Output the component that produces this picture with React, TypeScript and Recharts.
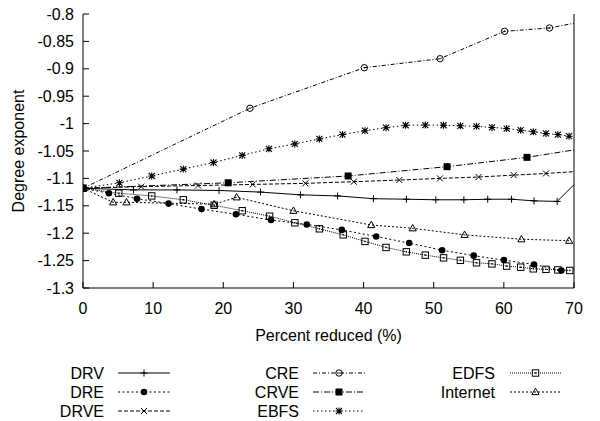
import React from 'react';
import { LineChart, Line, XAxis, YAxis } from 'recharts';

const X_TICKS = [0, 10, 20, 30, 40, 50, 60, 70];
const Y_TICKS = [-1.3, -1.25, -1.2, -1.15, -1.1, -1.05, -1, -0.95, -0.9, -0.85, -0.8];

const DRV: number[][] = [
  [0, -1.118], [7.2, -1.121], [13.4, -1.121], [19.4, -1.122], [25.3, -1.125], [31.0, -1.13],
  [36.3, -1.132], [41.4, -1.137], [46.1, -1.138], [50.3, -1.139], [54.3, -1.139], [57.7, -1.138],
  [61.1, -1.138], [64.3, -1.141], [67.6, -1.142], [72, -1.086],
];
const DRE: number[][] = [
  [0, -1.118], [3.7, -1.127], [7.7, -1.137], [12.2, -1.146], [16.9, -1.156], [21.8, -1.1655],
  [26.8, -1.176], [31.9, -1.184], [36.9, -1.194], [41.8, -1.206], [46.5, -1.218], [51.2, -1.231],
  [55.7, -1.241], [60.0, -1.249], [64.3, -1.257], [68.2, -1.268],
];
const DRVE: number[][] = [
  [0, -1.118], [8.3, -1.115], [16.4, -1.113], [24.2, -1.111], [31.7, -1.109], [38.6, -1.106],
  [45.1, -1.103], [50.9, -1.1], [56.4, -1.0975], [61.4, -1.094], [66.0, -1.091], [72, -1.086],
];
const CRE: number[][] = [
  [0, -1.118], [23.8, -0.972], [40.1, -0.898], [50.9, -0.8816], [60.1, -0.8316], [66.5, -0.8255],
  [72, -0.812],
];
const CRVE: number[][] = [
  [0, -1.118], [20.7, -1.108], [37.8, -1.0956], [51.9, -1.0786], [63.3, -1.0616], [74, -1.04],
];
const EBFS: number[][] = [
  [0, -1.118], [5.2, -1.108], [9.8, -1.0956], [14.3, -1.083], [18.6, -1.071], [22.7, -1.058],
  [26.5, -1.046], [30.2, -1.037], [33.7, -1.028], [37.0, -1.02], [40.2, -1.013], [43.2, -1.0075],
  [46.0, -1.003], [48.8, -1.0026], [51.4, -1.003], [53.8, -1.004], [56.1, -1.005], [58.3, -1.007],
  [60.4, -1.009], [62.4, -1.012], [64.2, -1.015], [66.0, -1.018], [67.7, -1.02], [69.3, -1.023],
];
const EDFS: number[][] = [
  [0, -1.118], [5.1, -1.127], [9.8, -1.132], [14.3, -1.139], [18.7, -1.149], [22.7, -1.159],
  [26.6, -1.169], [30.2, -1.181], [33.7, -1.192], [37.1, -1.203], [40.2, -1.215], [43.2, -1.226],
  [46.1, -1.234], [48.8, -1.24], [51.4, -1.245], [53.8, -1.2495], [56.1, -1.254], [58.3, -1.256],
  [60.4, -1.26], [62.4, -1.262], [64.2, -1.265], [66.0, -1.266], [67.7, -1.267], [69.4, -1.268],
];
const INTERNET: number[][] = [
  [0, -1.118], [4.3, -1.1436], [6.2, -1.1436], [18.7, -1.147], [21.9, -1.1345], [30.0, -1.159],
  [41.1, -1.185], [47.0, -1.191], [54.4, -1.203], [62.5, -1.211], [69.3, -1.2137],
];

const FONT = '"Liberation Sans", Arial, Helvetica, sans-serif';
const toPts = (arr: number[][]) => arr.map(([x, y]) => ({ x, y }));

type Shape = 'plus' | 'dot' | 'cross' | 'circle' | 'square' | 'star' | 'box' | 'tri';

function Marker({ shape, cx, cy }: { shape: Shape; cx: number; cy: number }) {
  const s = 3.5;
  switch (shape) {
    case 'plus':
      return <path d={`M${cx - s},${cy}H${cx + s}M${cx},${cy - s}V${cy + s}`} stroke="#000" strokeWidth={1} fill="none" />;
    case 'dot':
      return <circle cx={cx} cy={cy} r={3.3} fill="#000" />;
    case 'cross':
      return <path d={`M${cx - 3},${cy - 3}L${cx + 3},${cy + 3}M${cx - 3},${cy + 3}L${cx + 3},${cy - 3}`} stroke="#000" strokeWidth={1} fill="none" />;
    case 'circle':
      return (
        <g>
          <circle cx={cx} cy={cy} r={3.2} fill="none" stroke="#000" strokeWidth={1} />
          <circle cx={cx} cy={cy} r={0.8} fill="#000" />
        </g>
      );
    case 'square':
      return <rect x={cx - 3.5} y={cy - 3.5} width={7} height={7} fill="#000" />;
    case 'star':
      return (
        <path
          d={`M${cx - s},${cy}H${cx + s}M${cx},${cy - s}V${cy + s}M${cx - 3},${cy - 3}L${cx + 3},${cy + 3}M${cx - 3},${cy + 3}L${cx + 3},${cy - 3}`}
          stroke="#000" strokeWidth={1.1} fill="none"
        />
      );
    case 'box':
      return (
        <g>
          <rect x={cx - 3.2} y={cy - 3.2} width={6.4} height={6.4} fill="none" stroke="#000" strokeWidth={1} />
          <rect x={cx - 0.7} y={cy - 0.7} width={1.4} height={1.4} fill="#000" />
        </g>
      );
    case 'tri':
      return <path d={`M${cx},${cy - 3.8}L${cx + 3.6},${cy + 2.6}L${cx - 3.6},${cy + 2.6}Z`} fill="none" stroke="#000" strokeWidth={1} />;
    default:
      return null;
  }
}

const SERIES: { name: string; data: number[][]; shape: Shape; dash?: string }[] = [
  { name: 'DRV', data: DRV, shape: 'plus', dash: undefined },
  { name: 'DRE', data: DRE, shape: 'dot', dash: '2 2.5' },
  { name: 'DRVE', data: DRVE, shape: 'cross', dash: '4 2' },
  { name: 'CRE', data: CRE, shape: 'circle', dash: '4 2 1 2' },
  { name: 'CRVE', data: CRVE, shape: 'square', dash: '6 2 1 2' },
  { name: 'EBFS', data: EBFS, shape: 'star', dash: '1.5 2.5' },
  { name: 'EDFS', data: EDFS, shape: 'box', dash: '1 1' },
  { name: 'Internet', data: INTERNET, shape: 'tri', dash: '2 2' },
];

const LEGEND_COLS = [
  { textRight: 104, x1: 118, x2: 170 },
  { textRight: 299, x1: 313, x2: 365 },
  { textRight: 495, x1: 510, x2: 561 },
];
const LEGEND_ROWS = [373, 392, 411];

function LegendOverlay() {
  return (
    <svg width={600} height={421} style={{ position: 'absolute', left: 0, top: 0, pointerEvents: 'none' }}>
      {SERIES.map((s, i) => {
        const col = LEGEND_COLS[Math.floor(i / 3)];
        const y = LEGEND_ROWS[i % 3];
        const mid = (col.x1 + col.x2) / 2;
        return (
          <g key={s.name}>
            <text x={col.textRight} y={y} dy="0.355em" textAnchor="end" fontSize={16} fontFamily={FONT} fill="#000">
              {s.name}
            </text>
            <line x1={col.x1} x2={col.x2} y1={y} y2={y} stroke="#000" strokeWidth={1} strokeDasharray={s.dash} />
            <Marker shape={s.shape} cx={mid} cy={y} />
          </g>
        );
      })}
    </svg>
  );
}

export default function App() {
  const tickStyle = { fill: '#000', fontSize: 16, fontFamily: FONT };
  return (
    <div style={{ position: 'absolute', left: 0, top: 0, width: 600, height: 421, background: '#fff' }}>
      <LineChart width={600} height={421} margin={{ top: 14, right: 26, left: 0, bottom: 103 }}>
        <XAxis
          xAxisId="b" dataKey="x" type="number" domain={[0, 70]} ticks={X_TICKS} allowDataOverflow
          orientation="bottom" height={30} tickSize={-6} tickMargin={21}
          axisLine={{ stroke: '#000' }} tickLine={{ stroke: '#000' }} tick={tickStyle}
          label={{ value: 'Percent reduced (%)', position: 'insideBottom', offset: -23, fill: '#000', fontSize: 16, fontFamily: FONT }}
        />
        <XAxis
          xAxisId="t" type="number" domain={[0, 70]} ticks={X_TICKS} allowDataOverflow
          orientation="top" mirror height={0} tickSize={6}
          axisLine={{ stroke: '#000' }} tickLine={{ stroke: '#000' }} tick={false}
        />
        <YAxis
          yAxisId="l" type="number" domain={[-1.3, -0.8]} ticks={Y_TICKS} allowDataOverflow
          orientation="left" width={83} tickSize={-6} tickMargin={15}
          axisLine={{ stroke: '#000' }} tickLine={{ stroke: '#000' }} tick={tickStyle}
          label={{ value: 'Degree exponent', angle: -90, position: 'center', dx: -23, fill: '#000', fontSize: 16, fontFamily: FONT }}
        />
        <YAxis
          yAxisId="r" type="number" domain={[-1.3, -0.8]} ticks={Y_TICKS} allowDataOverflow
          orientation="right" mirror tickSize={6}
          axisLine={{ stroke: '#000' }} tickLine={{ stroke: '#000' }} tick={false}
        />
        {SERIES.map((s) => (
          <Line
            key={s.name}
            name={s.name}
            data={toPts(s.data)}
            dataKey="y"
            xAxisId="b"
            yAxisId="l"
            type="linear"
            stroke="#000"
            strokeWidth={1}
            strokeDasharray={s.dash}
            isAnimationActive={false}
            activeDot={false}
            dot={(p: any) => (
              <g key={`${s.name}-${p.index}`}>
                {p.payload && p.payload.x <= 70 ? <Marker shape={s.shape} cx={p.cx} cy={p.cy} /> : null}
              </g>
            )}
          />
        ))}
      </LineChart>
      <LegendOverlay />
    </div>
  );
}
